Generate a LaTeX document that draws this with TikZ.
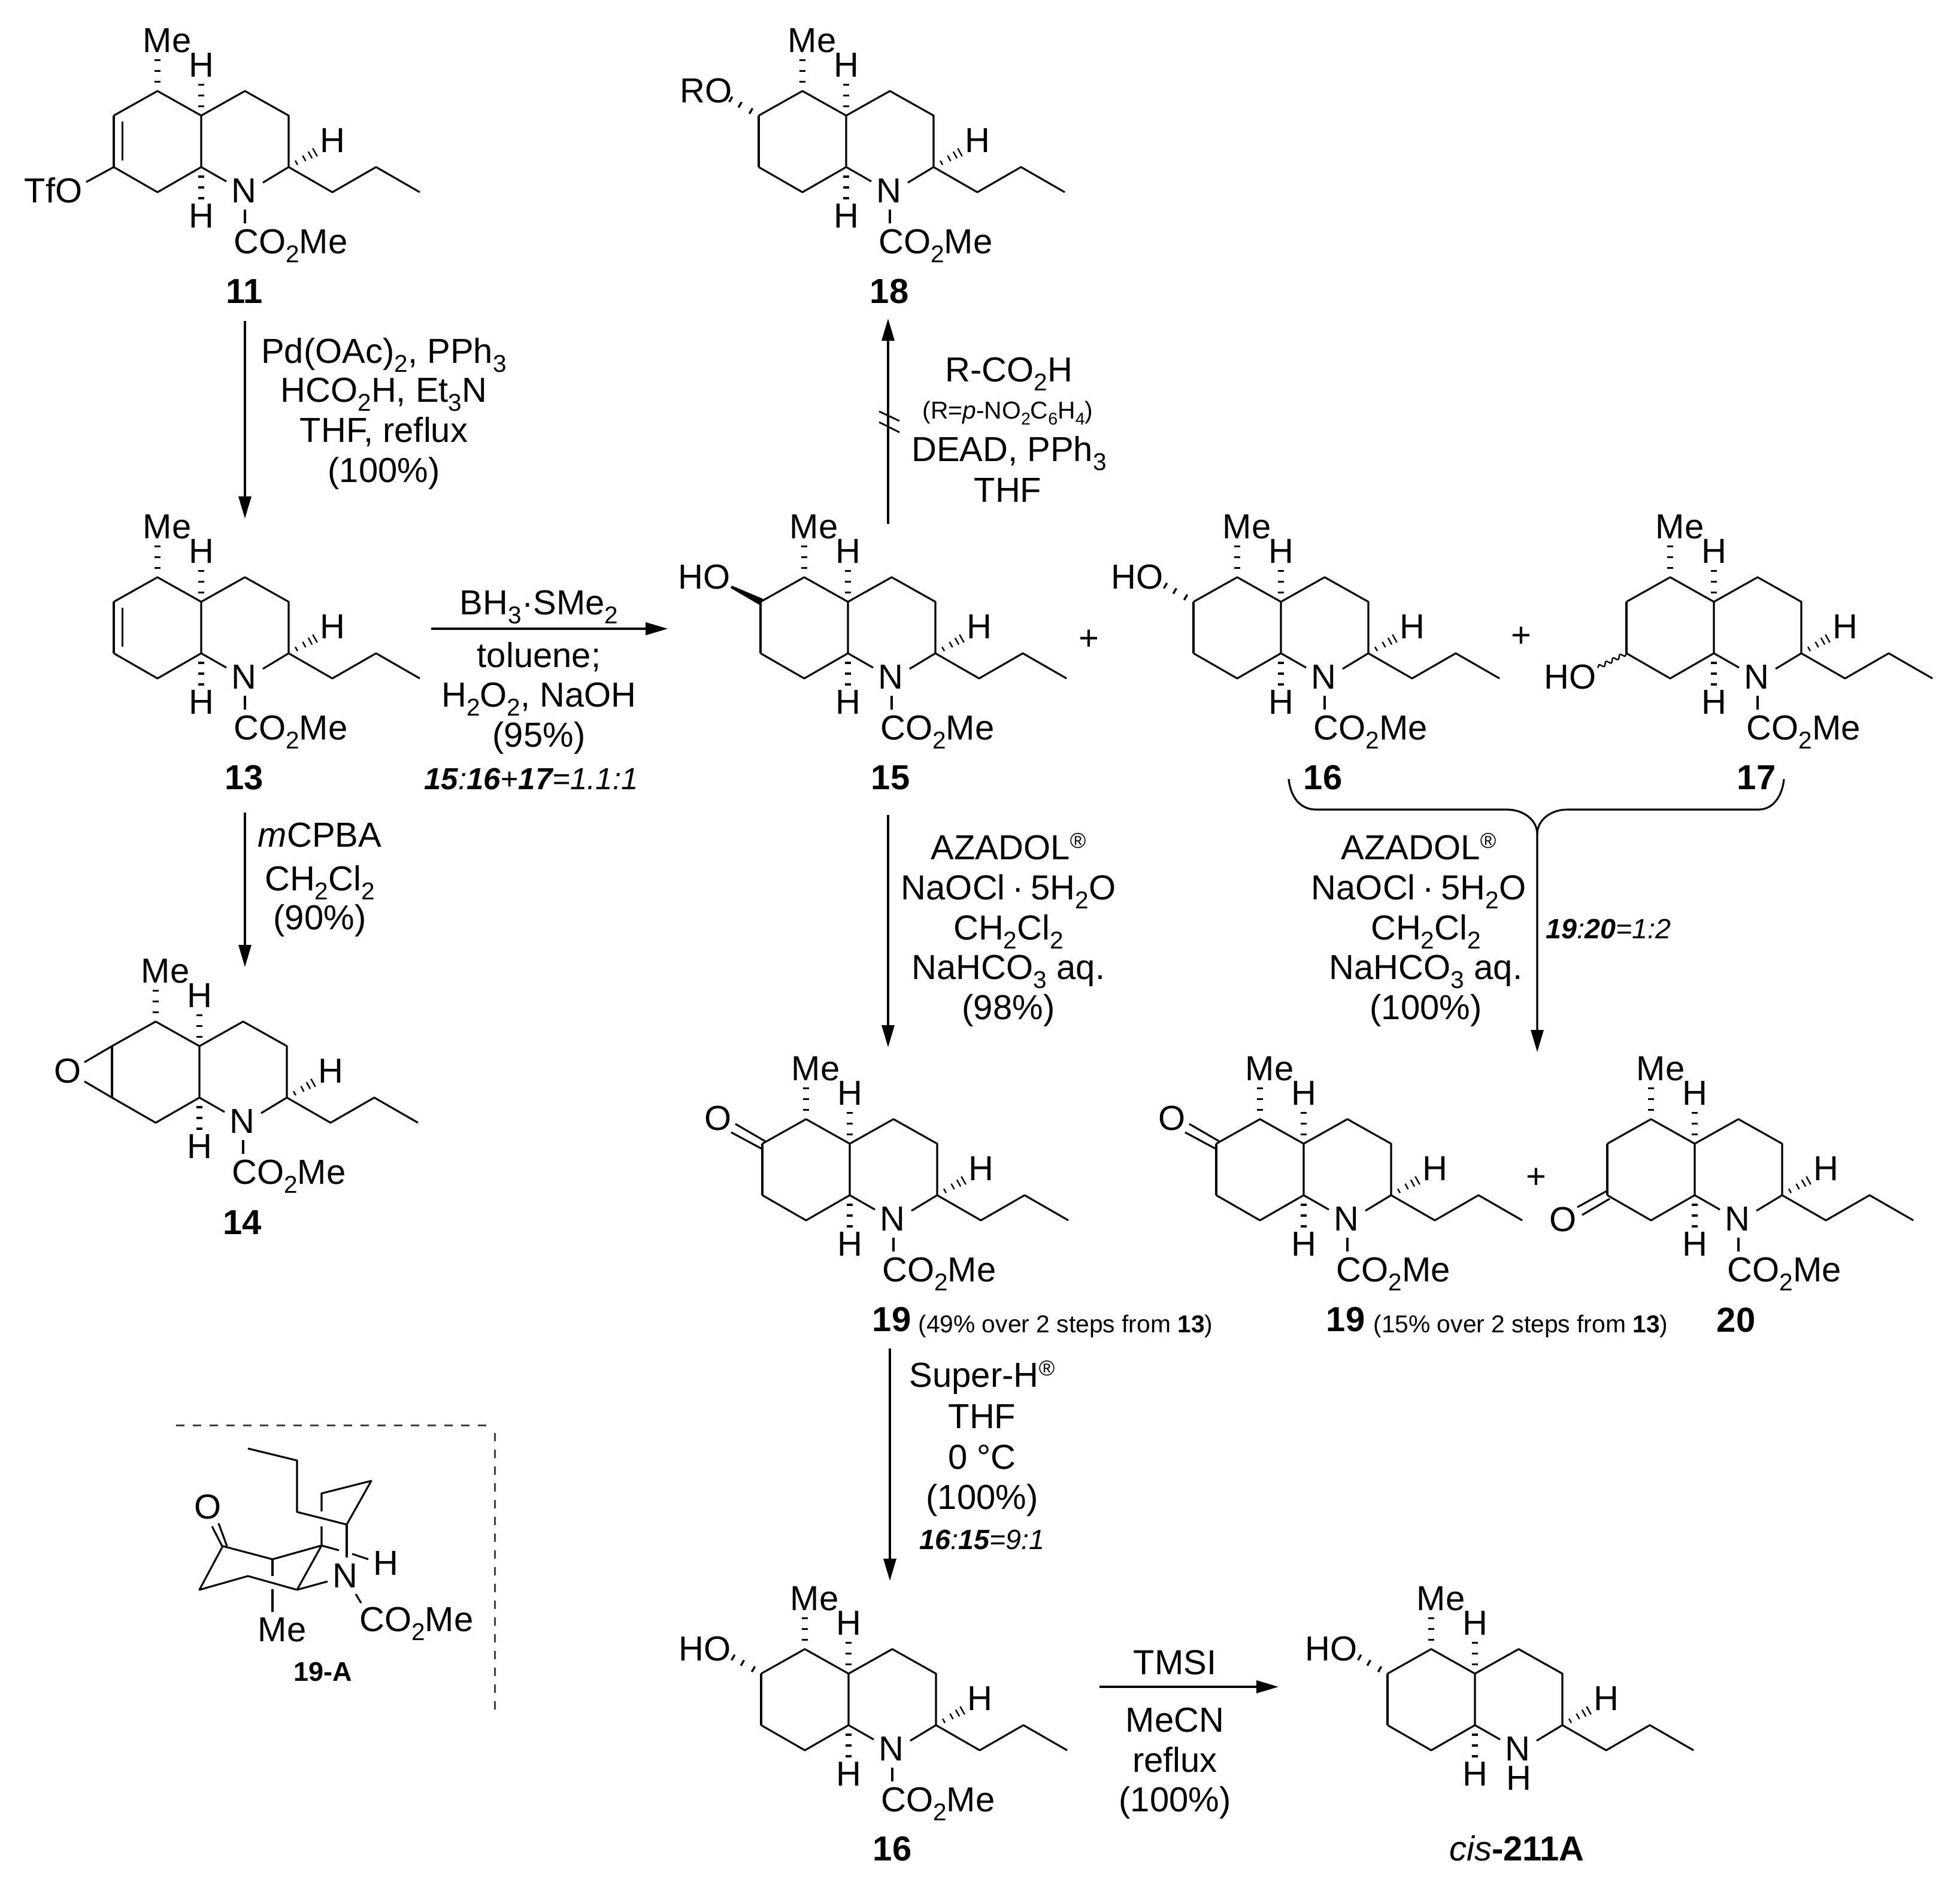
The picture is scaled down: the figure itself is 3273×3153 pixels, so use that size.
\documentclass[tikz,border=0pt]{standalone}
\usepackage{fontspec}
\usepackage{graphicx}
\setmainfont{Liberation Sans}
\usetikzlibrary{arrows.meta,calc,decorations.pathmorphing}
\newcommand\sbs[1]{\raisebox{-.25em}{\scalebox{.7}{#1}}}
\newcommand\regm{\raisebox{.33em}{\scalebox{.62}{®}}}
\tikzset{
  bond/.style={line width=1.55pt,line join=round,black},
  hashb/.style={line width=5pt,dash pattern=on 1.75pt off 7.25pt,black},
  tick/.style={line width=1.2pt,black},
  tickb/.style={line width=1.7pt,black},
  arr/.style={line width=1.6pt,line join=round,-{Triangle[length=18.5pt,width=10.5pt]}},
  lab/.style={inner sep=0pt,font=\fontsize{29pt}{29pt}\selectfont,text height=20.8pt,text depth=0pt},
  num/.style={lab,font=\fontsize{29pt}{29pt}\selectfont\bfseries},
  small/.style={inner sep=0pt,font=\fontsize{20.4pt}{20.4pt}\selectfont,text height=14.6pt,text depth=0pt},
  smallit/.style={inner sep=0pt,font=\fontsize{23.3pt}{23.3pt}\selectfont\itshape,text height=16.7pt,text depth=0pt},
  frame/.style={line width=1.5pt,dash pattern=on 7pt off 7pt,black!75}
}
% common skeleton, drawn inside a scope shifted to the ring-fusion carbon
\newcommand\core[1]{%
  \coordinate (#1CMe) at (-73,-41);
  \coordinate (#1C4a) at (0,0);
  \coordinate (#1C6) at (-146,0);
  \coordinate (#1C7) at (-146,86);
  \coordinate (#1C8) at (-73,128);
  \coordinate (#1C8a) at (0,86);
  \coordinate (#1C4) at (73,-41);
  \coordinate (#1C3) at (146,0);
  \coordinate (#1C2) at (146,86);
  \coordinate (#1P1) at (219,128);
  \coordinate (#1P2) at (292,86);
  \coordinate (#1P3) at (365,128);
  \coordinate (#1Na) at (42,110);
  \coordinate (#1Nb) at (103,112);
  \coordinate (#1Ht) at (50,-28);
  \draw[bond] (#1C6)--(#1CMe)--(#1C4a)--(#1C8a)--(#1C8)--(#1C7);
  \draw[bond] (#1C4a)--(#1C4)--(#1C3)--(#1C2)--(#1P1)--(#1P2)--(#1P3);
  \draw[bond] (#1C8a)--(#1Na);
  \draw[bond] (#1C2)--(#1Nb);
  \node[lab] (#1Me) at (-57,-126) {Me};
  \node[lab] (#1Hu) at (0,-85) {H};
  \node[lab] (#1Hd) at (0,167) {H};
  \node[lab] (#1Hr) at (219,41) {H};
  \node[lab] (#1N) at (71,125) {N};
  \draw[hashb] (-73,-55)--(-73,-95);
  \draw[hashb] (0,-14)--(0,-54);
  \draw[hashb] (0,100)--(0,140);
  \coordinate (#1Hx) at ($(#1C2)+(#1Ht)$);
  \foreach \t/\l in {.26/2pt,.52/2.6pt,.72/3.2pt,.88/3.8pt}{
    \coordinate (#1tmp) at ($(#1C2)!\t!(#1Hx)$);
    \draw[tick] ($(#1tmp)!\l!90:(#1Hx)$)--($(#1tmp)!\l!-90:(#1Hx)$);
  }
}
\newcommand\carb[1]{%
  \coordinate (#1Ca) at (73,157);
  \coordinate (#1Cb) at (73,180);
  \draw[bond] (#1Ca)--(#1Cb);
  \node[lab,anchor=west] (#1CO) at (54,210) {CO\sbs{2}Me};
}
\newcommand\ringside[1]{\draw[bond] (#1C6)--(#1C7);}
\newcommand\hashoh[3]{% prefix, from, to
  \foreach \t in {.25,.6,.9}{
    \coordinate (#1tmp) at ($(#2)!\t!(#3)$);
    \draw[tickb] ($(#1tmp)!2.6pt!90:(#3)$)--($(#1tmp)!2.6pt!-90:(#3)$);
  }
}
\newcommand\ketone[1]{%
  \coordinate (#1d1) at (-141,-4);\coordinate (#1d2) at (-191,-33);
  \coordinate (#1d3) at (-146,9);\coordinate (#1d4) at (-198,-19);
  \draw[bond] (#1d1)--(#1d2);
  \draw[bond] (#1d3)--(#1d4);
  \node[lab] (#1O) at (-220,-43) {O};
}
\begin{document}
\begin{tikzpicture}[x=.5pt,y=-.5pt]
\useasboundingbox (0,0) rectangle (3273,3153);

% 11
\begin{scope}[shift={(336,193)}]
  \core{a}\carb{a}\ringside{a}
  \coordinate (aD1) at (-131.5,10);\coordinate (aD2) at (-131.5,75);
  \draw[bond] (aD1)--(aD2);
  \coordinate (aOe) at (-192,111);
  \draw[bond] (aC7)--(aOe);
  \node[lab] (aTf) at (-247,125) {TfO};
\end{scope}
\node[num] (n11) at (408,486) {11};

% 13
\begin{scope}[shift={(336,1005)}]
  \core{b}\carb{b}\ringside{b}
  \coordinate (bD1) at (-131.5,10);\coordinate (bD2) at (-131.5,75);
  \draw[bond] (bD1)--(bD2);
\end{scope}
\node[num] (n13) at (408,1298) {13};

% 14
\begin{scope}[shift={(333,1747)}]
  \core{c}\carb{c}\ringside{c}
  \coordinate (cO1) at (-192,27);\coordinate (cO2) at (-192,59);
  \draw[bond] (cC6)--(cO1);
  \draw[bond] (cC7)--(cO2);
  \node[lab] (cO) at (-220,41) {O};
\end{scope}
\node[num] (n14) at (405,2041) {14};

% 18
\begin{scope}[shift={(1413,193)}]
  \core{d}\carb{d}\ringside{d}
  \coordinate (dOe) at (-198,-30);
  \hashoh{d}{dC6}{dOe}
  \node[lab] (dO) at (-234,-42) {RO};
\end{scope}
\node[num] (n18) at (1485,486) {18};

% 15
\begin{scope}[shift={(1416,1005)}]
  \core{e}\carb{e}\ringside{e}
  \fill[black] (-142,-5)--(-148,5)--(-196,-23)--(-194,-27)--cycle;
  \node[lab] (eO) at (-240,-42) {HO};
\end{scope}
\node[num] (n15) at (1487,1298) {15};

% 16 (right)
\begin{scope}[shift={(2139,1005)}]
  \core{f}\carb{f}\ringside{f}
  \coordinate (fOe) at (-198,-30);
  \hashoh{f}{fC6}{fOe}
  \node[lab] (fO) at (-240,-42) {HO};
\end{scope}
\node[num] (n16r) at (2209,1298) {16};

% 17
\begin{scope}[shift={(2862,1005)}]
  \core{g}\carb{g}\ringside{g}
  \coordinate (gOe) at (-194,110);
  \draw[line width=1.2pt,decorate,decoration={snake,amplitude=1.6pt,segment length=6.5pt}] (gC7)--(gOe);
  \node[lab] (gO) at (-240,125) {HO};
\end{scope}
\node[num] (n17) at (2933,1298) {17};

% 19 (centre)
\begin{scope}[shift={(1419,1910)}]
  \core{h}\carb{h}\ringside{h}
  \ketone{h}
\end{scope}
\node[num] (n19a) at (1489,2203) {19};
\node[small,anchor=west] (y19a) at (1533,2211) {(49\% over 2 steps from \textbf{13})};

% 19 (right)
\begin{scope}[shift={(2177,1910)}]
  \core{i}\carb{i}\ringside{i}
  \ketone{i}
\end{scope}
\node[num] (n19b) at (2247,2203) {19};
\node[small,anchor=west] (y19b) at (2293,2211) {(15\% over 2 steps from \textbf{13})};

% 20
\begin{scope}[shift={(2830,1910)}]
  \core{j}\carb{j}\ringside{j}
  \coordinate (jd1) at (-147,79);\coordinate (jd2) at (-196,106);
  \coordinate (jd3) at (-142,92);\coordinate (jd4) at (-188,119);
  \draw[bond] (jd1)--(jd2);
  \draw[bond] (jd3)--(jd4);
  \node[lab] (jO) at (-220,126) {O};
\end{scope}
\node[num] (n20) at (2899,2204) {20};

% 16 (bottom)
\begin{scope}[shift={(1417,2795)}]
  \core{k}\carb{k}\ringside{k}
  \coordinate (kOe) at (-198,-30);
  \hashoh{k}{kC6}{kOe}
  \node[lab] (kO) at (-240,-42) {HO};
\end{scope}
\node[num] (n16b) at (1490,3087) {16};

% cis-211A
\begin{scope}[shift={(2463,2795)}]
  \core{m}\ringside{m}
  \coordinate (mOe) at (-198,-30);
  \hashoh{m}{mC6}{mOe}
  \node[lab] (mO) at (-240,-42) {HO};
  \node[lab] (mNH) at (73,174) {H};
\end{scope}
\node[num] (n211) at (2533,3087) {\textit{\mdseries cis}-211A};

% arrows
\coordinate (A1s) at (409,536);\coordinate (A1e) at (409,866);
\draw[arr] (A1s)--(A1e);
\coordinate (A2s) at (409,1357);\coordinate (A2e) at (409,1615);
\draw[arr] (A2s)--(A2e);
\coordinate (A3s) at (720,1050);\coordinate (A3e) at (1115,1050);
\draw[arr] (A3s)--(A3e);
\coordinate (A4s) at (1483,875);\coordinate (A4e) at (1483,532);
\draw[arr] (A4s)--(A4e);
\coordinate (T1a) at (1468,687);\coordinate (T1b) at (1502,703);
\coordinate (T2a) at (1468,705);\coordinate (T2b) at (1502,722);
\draw[line width=1.4pt] (T1a)--(T1b);
\draw[line width=1.4pt] (T2a)--(T2b);
\coordinate (A5s) at (1483,1361);\coordinate (A5e) at (1483,1749);
\draw[arr] (A5s)--(A5e);
\coordinate (A6s) at (1486,2252);\coordinate (A6e) at (1486,2640);
\draw[arr] (A6s)--(A6e);
\coordinate (A7s) at (1836,2817);\coordinate (A7e) at (2135,2817);
\draw[arr] (A7s)--(A7e);

% brace with arrow
\coordinate (BL) at (2152,1301);\coordinate (BR) at (2979,1301);
\coordinate (BM) at (2567,1393);\coordinate (Be) at (2567,1757);
\draw[arr] (BL) .. controls (2155,1330) and (2170,1352) .. (2198,1352) -- (2516,1352)
  .. controls (2545,1352) and (2567,1370) .. (BM) -- (Be);
\draw[bond] (BR) .. controls (2976,1330) and (2961,1352) .. (2936,1352) -- (2617,1352)
  .. controls (2589,1352) and (2567,1370) .. (BM);

% reagents
\node[lab] (r1a) at (641,586) {Pd(OAc)\sbs{2}, PPh\sbs{3}};
\node[lab] (r1b) at (641,651) {HCO\sbs{2}H, Et\sbs{3}N};
\node[lab] (r1c) at (641,718) {THF, reflux};
\node[lab] (r1d) at (641,785) {(100\%)};

\node[lab] (r2a) at (900,1006) {BH\sbs{3}·SMe\sbs{2}};
\node[lab] (r2b) at (900,1094) {toluene;};
\node[lab] (r2c) at (900,1160) {H\sbs{2}O\sbs{2}, NaOH};
\node[lab] (r2d) at (900,1227) {(95\%)};
\node[smallit,font=\fontsize{25.5pt}{25.5pt}\selectfont\itshape] (r2e) at (887,1302) {\textbf{15}:\textbf{16}+\textbf{17}=1.1:1};

\node[lab] (r3a) at (534,1394) {\textit{m}CPBA};
\node[lab] (r3b) at (534,1467) {CH\sbs{2}Cl\sbs{2}};
\node[lab] (r3c) at (534,1532) {(90\%)};

\node[lab] (r4a) at (1685,617) {R-CO\sbs{2}H};
\node[small] (r4b) at (1683,685) {(R=\textit{p}-NO\sbs{2}C\sbs{6}H\sbs{4})};
\node[lab] (r4c) at (1685,750) {DEAD, PPh\sbs{3}};
\node[lab] (r4d) at (1683,818) {THF};

\node[lab] (r5a) at (1684,1415) {AZADOL\regm};
\node[lab] (r5b) at (1684,1482) {NaOCl\hspace{.2em}·\hspace{.2em}5H\sbs{2}O};
\node[lab] (r5c) at (1684,1549) {CH\sbs{2}Cl\sbs{2}};
\node[lab] (r5d) at (1684,1615) {NaHCO\sbs{3} aq.};
\node[lab] (r5e) at (1684,1682) {(98\%)};

\node[lab] (r6a) at (2369,1415) {AZADOL\regm};
\node[lab] (r6b) at (2369,1482) {NaOCl\hspace{.2em}·\hspace{.2em}5H\sbs{2}O};
\node[lab] (r6c) at (2381,1549) {CH\sbs{2}Cl\sbs{2}};
\node[lab] (r6d) at (2381,1615) {NaHCO\sbs{3} aq.};
\node[lab] (r6e) at (2381,1682) {(100\%)};
\node[smallit] (r6f) at (2686,1551) {\textbf{19}:\textbf{20}=1:2};

\node[lab] (r7a) at (1640,2296) {Super-H\regm};
\node[lab] (r7b) at (1640,2365) {THF};
\node[lab] (r7c) at (1640,2433) {0 °C};
\node[lab] (r7d) at (1640,2500) {(100\%)};
\node[smallit] (r7e) at (1640,2571) {\textbf{16}:\textbf{15}=9:1};

\node[lab] (r8a) at (1962,2776) {TMSI};
\node[lab] (r8b) at (1962,2872) {MeCN};
\node[lab] (r8c) at (1962,2939) {reflux};
\node[lab] (r8d) at (1962,3005) {(100\%)};

\node[lab] (p1) at (1818,1065) {+};
\node[lab] (p2) at (2540,1060) {+};
\node[lab] (p3) at (2565,1964) {+};

% frame
\coordinate (F1) at (294,2380);\coordinate (F2) at (814,2380);
\coordinate (F3) at (826,2393);\coordinate (F4) at (826,2857);
\draw[frame] (F1)--(F2);
\draw[frame] (F3)--(F4);

% 19-A
\coordinate (qa) at (414,2419);\coordinate (qb) at (496,2439);\coordinate (qc) at (496,2525);
\coordinate (qd) at (579,2546);\coordinate (qe) at (620,2473);\coordinate (qf) at (537,2494);
\coordinate (qf2) at (537,2524);\coordinate (qg1) at (537,2549);\coordinate (qg) at (537,2581);
\coordinate (qd2) at (579,2601);\coordinate (qg2) at (566,2589);
\coordinate (qh1) at (588,2595);\coordinate (qh2) at (615,2604);
\coordinate (qm) at (496,2655);\coordinate (qm2) at (547,2641);
\coordinate (qh) at (455,2604);\coordinate (qi) at (372,2582);\coordinate (qj) at (333,2655);
\coordinate (qk) at (414,2632);\coordinate (qh3) at (455,2632);
\coordinate (qh4) at (455,2654);\coordinate (qh5) at (455,2692);
\coordinate (qo1) at (354,2549);\coordinate (qo2) at (372,2584);
\coordinate (qo3) at (365,2544);\coordinate (qo4) at (379,2582);
\coordinate (qn1) at (594,2662);\coordinate (qn2) at (603,2677);
\draw[bond] (qa)--(qb)--(qc)--(qd)--(qe)--(qf)--(qf2);
\draw[bond] (qg1)--(qg)--(qm);
\draw[bond] (qd)--(qd2);
\draw[bond] (qg)--(qg2);
\draw[bond] (qh1)--(qh2);
\draw[bond] (qm)--(qm2);
\draw[bond] (qg)--(qh)--(qi)--(qj)--(qk)--(qm);
\draw[bond] (qh)--(qh3);
\draw[bond] (qh4)--(qh5);
\draw[bond] (qo1)--(qo2);
\draw[bond] (qo3)--(qo4);
\draw[bond] (qn1)--(qn2);
\node[lab] (qO) at (347,2516) {O};
\node[lab] (qH) at (644,2610) {H};
\node[lab] (qN) at (576,2631) {N};
\node[lab] (qMe) at (471,2721) {Me};
\node[lab,anchor=west] (qCO) at (600,2704) {CO\sbs{2}Me};
\node[inner sep=0pt,font=\fontsize{22.5pt}{22.5pt}\selectfont\bfseries,text height=16pt,text depth=0pt] (qlab) at (539,2791) {19-A};
\end{tikzpicture}
\end{document}
